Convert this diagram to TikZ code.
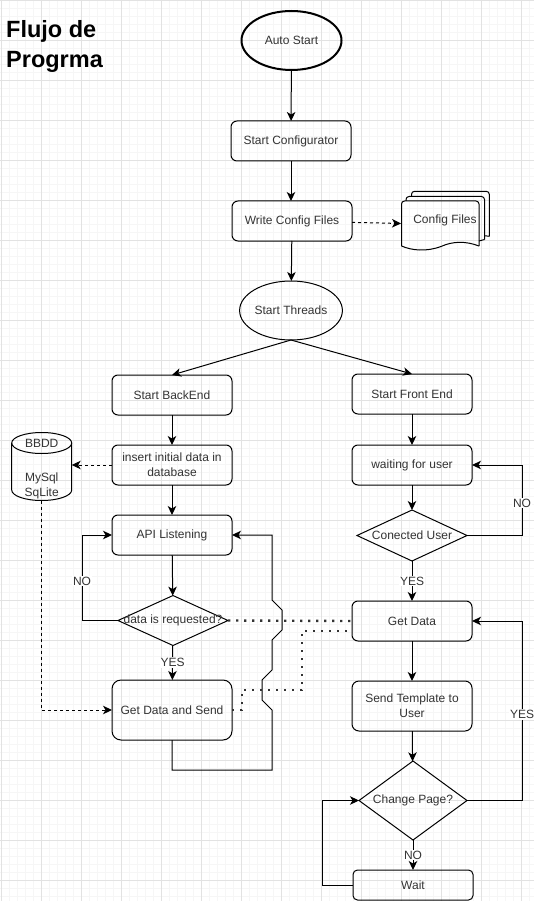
\documentclass[tikz,border=0pt]{standalone}
\usepackage{fontspec}
\setmainfont{Liberation Sans}
\usetikzlibrary{shapes.geometric,arrows.meta}
\definecolor{txt}{HTML}{333333}
\definecolor{gridA}{HTML}{E2E2E2}
\definecolor{gridB}{HTML}{F6F6F6}
\definecolor{dots}{HTML}{333333}
\tikzset{
  box/.style={draw=black,line width=1pt,rounded corners=6pt,minimum width=120pt,minimum height=40pt,inner sep=0pt,outer sep=0pt,align=center,text=txt,font=\fontsize{12}{15}\selectfont},
  oval/.style={draw=black,line width=1pt,ellipse,minimum width=100pt,minimum height=59pt,inner sep=0pt,outer sep=0pt,align=center,text=txt,font=\fontsize{12}{15}\selectfont},
  decide/.style={draw=black,line width=1pt,diamond,inner sep=0pt,outer sep=0pt,text=txt,font=\fontsize{12}{15}\selectfont},
  plain/.style={inner sep=0pt,outer sep=0pt,align=center,text=txt,font=\fontsize{12}{15}\selectfont},
  edgelbl/.style={fill=white,inner sep=1pt,text=txt,font=\fontsize{12}{14}\selectfont},
  flow/.style={draw=black,line width=1pt,-{Stealth[length=9pt,width=8.5pt,inset=2.5pt]}},
  dashflow/.style={flow,dash pattern=on 3pt off 3pt},
  dotflow/.style={draw=dots,line width=2.4pt,dash pattern=on 2.4pt off 5.6pt},
  shapeline/.style={draw=black,line width=1pt,line join=round}
}
\begin{document}
\begin{tikzpicture}[x=1pt,y=-1pt]
\useasboundingbox (0,0) rectangle (534,901);
% grid
\foreach \gx in {1.7,9.7,...,534}{\draw[gridB,line width=.8pt] (\gx,0)--(\gx,901);}
\foreach \gy in {0.5,8.5,...,901}{\draw[gridB,line width=.8pt] (0,\gy)--(534,\gy);}
\foreach \gx in {1.7,41.7,...,534}{\draw[gridA,line width=.8pt] (\gx,0)--(\gx,901);}
\foreach \gy in {0.5,40.5,...,901}{\draw[gridA,line width=.8pt] (0,\gy)--(534,\gy);}
% title
\node[anchor=base west,inner sep=0pt,font=\bfseries\fontsize{23.5}{30}\selectfont] (ttl1) at (6,37.5) {Flujo de};
\node[anchor=base west,inner sep=0pt,font=\bfseries\fontsize{23.5}{30}\selectfont] (ttl2) at (6,67.5) {Progrma};
% nodes
\node[oval,line width=2pt] (auto) at (291.5,40.5) {Auto Start};
\node[box] (conf) at (291,141) {Start Configurator};
\node[box] (write) at (292,221) {Write Config Files};
\node[oval] (threads) at (291,310.5) {Start Threads};
\node[box] (back) at (172,395) {Start BackEnd};
\node[box] (front) at (412,394) {Start Front End};
\node[box] (ins) at (172,465) {insert initial data in\\database};
\node[box] (wait) at (412,465) {waiting for user};
\node[box] (api) at (172,535) {API Listening};
\node[decide,minimum width=110pt,minimum height=51pt,aspect=2.157] (conn) at (412,535.5) {\makebox[0pt]{Conected User}};
\node[decide,minimum width=110pt,minimum height=50pt,aspect=2.2] (req) at (173,620.5) {\makebox[0pt]{data is requested?}};
\node[box] (get) at (412,621) {Get Data};
\node[box,minimum height=60pt,rounded corners=9pt] (send) at (172,710) {Get Data and Send};
\node[box,minimum height=50pt,rounded corners=7pt] (tmpl) at (412,706) {Send Template to\\User};
\node[decide,minimum width=108pt,minimum height=79pt,aspect=1.367] (chg) at (413,800.5) {\makebox[0pt]{Change Page?}};
\node[box,minimum height=30pt,rounded corners=4.5pt] (idle) at (413,885) {Wait};
% documents
\draw[shapeline,rounded corners=3pt] (411.5,196) -- (411.5,191.3) -- (489.3,191.3) -- (489.3,236.3);
\draw[shapeline] (489.3,236.3) -- (484.5,235.7);
\draw[shapeline,rounded corners=3pt] (406,201) -- (406,196.5) -- (484.5,196.5) -- (484.5,239.5);
\draw[shapeline] (484.5,239.5) -- (479,241);
\draw[shapeline,rounded corners=3pt] (401.5,246) -- (401.5,201) -- (479,201) -- (479,246);
\draw[shapeline] (401.5,246) .. controls (412,250.5) and (426,252) .. (441,246.5) .. controls (453,241) and (466,241) .. (479,246);
\node[plain,minimum width=78pt,minimum height=45pt] (cfg) at (440,223.5) {};
\node[plain] (cfgt) at (445,220.5) {Config Files};
% database
\draw[shapeline] (11.7,443) -- (11.7,490) .. controls (11.7,495.8) and (25,500.5) .. (41.7,500.5) .. controls (58.3,500.5) and (71.7,495.8) .. (71.7,490) -- (71.7,443);
\draw[shapeline] (41.7,443) ellipse[x radius=30,y radius=10.5];
\node[plain,minimum width=60pt,minimum height=71pt] (db) at (41.7,465) {};
\coordinate (dbfoot) at (41.7,500.5);
\node[plain] (dbt1) at (41.7,443) {BBDD};
\node[plain] (dbt2) at (41.7,485.5) {MySql\\SqLite};
% connectors
\draw[flow] (auto) -- (conf);
\draw[flow] (conf) -- (conf |- write.north);
\draw[flow] (write) -- (threads);
\draw[dashflow] (write) -- (cfg.west);
\draw[flow] (threads.south) -- (back.north);
\draw[flow] (threads.south) -- (front.north);
\draw[flow] (back) -- (ins);
\draw[flow] (front) -- (wait);
\draw[flow] (ins) -- (api);
\draw[dashflow] (ins) -- (db.east |- ins);
\draw[flow] (wait) -- (conn);
\draw[flow] (api) -- (req);
\draw[flow] (conn) -- node[edgelbl] (ly1) {YES} (get);
\draw[flow] (req) -- node[edgelbl,pos=.5] (ly2) {YES} (send);
\draw[flow] (get) -- (tmpl);
\draw[flow] (tmpl) -- (chg);
\draw[flow] (chg) -- node[edgelbl,pos=.5] (ln1) {NO} (idle);
\draw[flow] (conn.east) -- (522,535.5) -- node[edgelbl,pos=.46] (ln2) {NO} (522,465) -- (wait.east);
\draw[flow] (req.west) -- (82,620.5) -- node[edgelbl,pos=.46] (ln3) {NO} (82,535) -- (api.west);
\draw[flow] (chg.east) -- (522,800.5) -- node[edgelbl,pos=.48] (ly3) {YES} (522,621) -- (get.east);
\draw[flow] (idle.west) -- (322,885) -- (322,800.5) -- (chg.west);
\draw[dashflow] (dbfoot) -- (41.7,710) -- (send.west);
\draw[flow] (send.south) -- (172,770) -- (272,770) -- (272,710) -- (262,700) -- (262,680) -- (272,670) -- (272,640) -- (282,630) -- (282,610) -- (272,600) -- (272,535) -- (api.east);
\draw[dotflow] (req.east) -- (get.west);
\draw[dotflow] (send.east) -- (242,710) -- (242,690) -- (302,690) -- (302,631) -- (352,631);
\end{tikzpicture}
\end{document}
